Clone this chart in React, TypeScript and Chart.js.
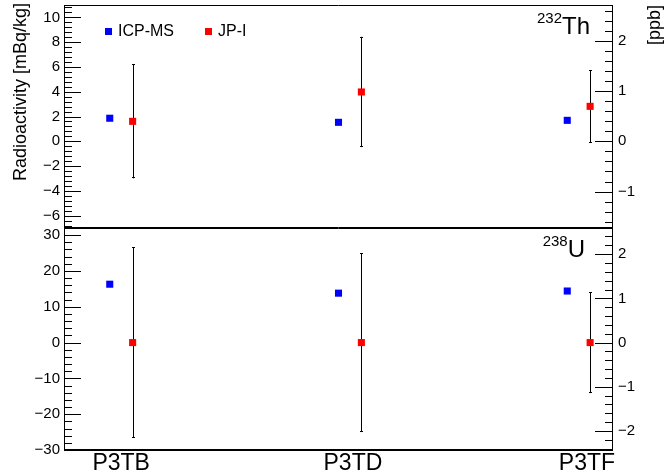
import React, { useEffect, useRef } from "react";
import { Chart, registerables } from "chart.js";

Chart.register(...registerables);

// ---------- data ----------
const categories = ["P3TB", "P3TD", "P3TF"];
const categoryX = [0, 1, 2];
const labelX = [0, 1.013, 2.036];
const pairOffset = 0.05;
const xRange = [-0.25, 2.15];

// Th-232 panel (mBq/kg)
const thICPMS = [1.86, 1.53, 1.69];
const thJPI = [1.61, 3.98, 2.82];
const thJPIErr = [4.6, 4.45, 2.93];
const thRange = [-7, 11];
const thMajor = [-6, -4, -2, 0, 2, 4, 6, 8, 10];
const thMinorStep = 0.4;
const thPerPpb = 4.06;
const thPpbMajor = [-1, 0, 1, 2];

// U-238 panel (mBq/kg)
const uICPMS = [16.3, 13.8, 14.4];
const uJPI = [0, 0, 0];
const uJPIErr = [26.6, 25.0, 14.1];
const uRange = [-30, 32];
const uMajor = [-30, -20, -10, 0, 10, 20, 30];
const uMinorStep = 2;
const uPerPpb = 12.35;
const uPpbMajor = [-2, -1, 0, 1, 2];

const ppbMinorStep = 0.2;

const seriesNames = ["ICP-MS", "JP-I"];
const seriesColors = ["#0000ff", "#ff0000"];

// ---------- helpers ----------
const FONT = '"Liberation Sans", Arial, Helvetica, sans-serif';
const fmt = (v: number) => String(v).replace("-", "\u2212");

function minorTicks(min: number, max: number, step: number) {
  const out: number[] = [];
  const start = Math.ceil(min / step - 1e-9);
  const end = Math.floor(max / step + 1e-9);
  for (let i = start; i <= end; i++) out.push(Math.round(i * step * 1e6) / 1e6);
  return out;
}

type PanelCfg = {
  id: string;
  icp: number[];
  jpi: number[];
  jpiErr: number[];
  range: number[];
  major: number[];
  minorStep: number;
  conv: number;
  ppbMajor: number[];
  isoNum: string;
  isoSym: string;
  isoRight: number;
  isTop: boolean;
  canvasTop: number;
  canvasHeight: number;
  padTop: number;
  padBottom: number;
};

const panels: PanelCfg[] = [
  {
    id: "th",
    icp: thICPMS,
    jpi: thJPI,
    jpiErr: thJPIErr,
    range: thRange,
    major: thMajor,
    minorStep: thMinorStep,
    conv: thPerPpb,
    ppbMajor: thPpbMajor,
    isoNum: "232",
    isoSym: "Th",
    isoRight: 23,
    isTop: true,
    canvasTop: 0,
    canvasHeight: 236,
    padTop: 5,
    padBottom: 8,
  },
  {
    id: "u",
    icp: uICPMS,
    jpi: uJPI,
    jpiErr: uJPIErr,
    range: uRange,
    major: uMajor,
    minorStep: uMinorStep,
    conv: uPerPpb,
    ppbMajor: uPpbMajor,
    isoNum: "238",
    isoSym: "U",
    isoRight: 28,
    isTop: false,
    canvasTop: 220,
    canvasHeight: 255,
    padTop: 8,
    padBottom: 0,
  },
];

function makePlugin(p: PanelCfg) {
  return {
    id: "rootFrame_" + p.id,
    beforeDatasetsDraw(chart: any) {
      const ctx = chart.ctx;
      const xs = chart.scales.x;
      const ys = chart.scales.y;
      ctx.save();
      ctx.strokeStyle = "#000";
      ctx.lineWidth = 1;
      p.jpi.forEach((v, i) => {
        const e = p.jpiErr[i];
        const x = Math.round(xs.getPixelForValue(categoryX[i] + pairOffset)) + 0.5;
        const y1 = ys.getPixelForValue(v + e);
        const y2 = ys.getPixelForValue(v - e);
        ctx.beginPath();
        ctx.moveTo(x, y1);
        ctx.lineTo(x, y2);
        ctx.moveTo(x - 1.5, Math.round(y1) + 0.5);
        ctx.lineTo(x + 1.5, Math.round(y1) + 0.5);
        ctx.moveTo(x - 1.5, Math.round(y2) - 0.5);
        ctx.lineTo(x + 1.5, Math.round(y2) - 0.5);
        ctx.stroke();
      });
      ctx.restore();
    },
    afterDraw(chart: any) {
      const ctx = chart.ctx;
      const { left, right, top, bottom } = chart.chartArea;
      const ys = chart.scales.y;
      const y2s = chart.scales.y2;
      ctx.save();
      ctx.strokeStyle = "#000";
      ctx.lineWidth = 1;
      // frame
      ctx.beginPath();
      ctx.moveTo(left + 0.5, top);
      ctx.lineTo(left + 0.5, bottom);
      ctx.moveTo(right - 0.5, top);
      ctx.lineTo(right - 0.5, bottom);
      ctx.moveTo(left, top + 0.5);
      ctx.lineTo(right, top + 0.5);
      if (p.isTop) {
        ctx.moveTo(left, bottom - 0.5);
        ctx.lineTo(right, bottom - 0.5);
      }
      ctx.stroke();
      if (!p.isTop) {
        ctx.lineWidth = 2;
        ctx.beginPath();
        ctx.moveTo(left, bottom);
        ctx.lineTo(right, bottom);
        ctx.stroke();
        ctx.lineWidth = 1;
      }
      // ticks (ROOT style: drawn inward)
      const MAJ = 17;
      const MIN = 8;
      const segs: number[][] = [];
      for (const v of minorTicks(p.range[0], p.range[1], p.minorStep)) {
        const y = Math.round(ys.getPixelForValue(v)) + 0.5;
        if (y < top + 1 || y > bottom - 1) continue;
        segs.push([left, y, left + MIN, y]);
      }
      for (const v of p.major) {
        const y = Math.round(ys.getPixelForValue(v)) + 0.5;
        segs.push([left, y, left + MAJ, y]);
      }
      for (const v of minorTicks(p.range[0] / p.conv, p.range[1] / p.conv, ppbMinorStep)) {
        const y = Math.round(y2s.getPixelForValue(v)) + 0.5;
        if (y < top + 1 || y > bottom - 1) continue;
        segs.push([right, y, right - MIN, y]);
      }
      for (const v of p.ppbMajor) {
        const y = Math.round(y2s.getPixelForValue(v)) + 0.5;
        segs.push([right, y, right - MAJ - 1, y]);
      }
      ctx.strokeStyle = "#000";
      ctx.lineWidth = 1;
      for (const s of segs) {
        ctx.beginPath();
        ctx.moveTo(s[0], s[1]);
        ctx.lineTo(s[2], s[3]);
        ctx.stroke();
      }

      // isotope label
      ctx.fillStyle = "#000";
      ctx.textBaseline = "alphabetic";
      ctx.textAlign = "right";
      ctx.font = `24px ${FONT}`;
      const symRight = right - p.isoRight;
      const symBase = top + 29;
      ctx.fillText(p.isoSym, symRight, symBase);
      const wSym = ctx.measureText(p.isoSym).width;
      ctx.font = `15px ${FONT}`;
      ctx.fillText(p.isoNum, symRight - wSym, symBase - 11);

      if (p.isTop) {
        // legend
        const legX = [108.5, 208.5];
        const legY = 31.5;
        chart.data.datasets.forEach((ds: any, i: number) => {
          ctx.fillStyle = ds.backgroundColor;
          ctx.fillRect(legX[i] - 3.5, legY - 3.5, 7, 7);
          ctx.fillStyle = "#000";
          ctx.font = `16px ${FONT}`;
          ctx.textAlign = "left";
          ctx.textBaseline = "middle";
          ctx.fillText(ds.label, legX[i] + 9.5, legY + 0.5);
        });
        // axis titles
        ctx.font = `18px ${FONT}`;
        ctx.textAlign = "right";
        ctx.textBaseline = "middle";
        ctx.save();
        ctx.translate(21, 3);
        ctx.rotate(-Math.PI / 2);
        ctx.fillText("Radioactivity [mBq/kg]", 0, 0);
        ctx.restore();
        ctx.save();
        ctx.translate(655, 5);
        ctx.rotate(-Math.PI / 2);
        ctx.fillText("[ppb]", 0, 0);
        ctx.restore();
      }
      ctx.restore();
    },
  };
}

function Panel({ p }: { p: PanelCfg }) {
  const ref = useRef<HTMLCanvasElement | null>(null);
  useEffect(() => {
    if (!ref.current) return;
    const values = [p.icp, p.jpi];
    const chart = new Chart(ref.current, {
      type: "scatter",
      data: {
        datasets: values.map((arr, s) => ({
          label: seriesNames[s],
          data: arr.map((v, i) => ({ x: categoryX[i] + (s === 0 ? -pairOffset : pairOffset), y: v })),
          backgroundColor: seriesColors[s],
          borderColor: seriesColors[s],
          pointStyle: "rect",
          pointRadius: 5,
          pointBorderWidth: 0,
          borderWidth: 0,
          xAxisID: "x",
          yAxisID: "y",
        })),
      },
      options: {
        responsive: false,
        animation: false,
        devicePixelRatio: 1,
        events: [],
        layout: { padding: { top: p.padTop, bottom: p.padBottom, left: 0, right: 0 } },
        plugins: {
          legend: { display: false },
          tooltip: { enabled: false },
          title: { display: false },
        },
        scales: {
          x: {
            type: "linear",
            min: xRange[0],
            max: xRange[1],
            display: !p.isTop,
            grid: { display: false, drawTicks: false },
            border: { display: false },
            afterBuildTicks: (s: any) => {
              s.ticks = labelX.map((v) => ({ value: v }));
            },
            afterFit: (s: any) => {
              if (!p.isTop) s.height = 25;
              s.paddingLeft = 0;
              s.paddingRight = 0;
            },
            ticks: {
              autoSkip: false,
              maxRotation: 0,
              minRotation: 0,
              padding: 0,
              color: "#000",
              font: { family: FONT, size: 23 },
              callback: (_v: any, i: number) => categories[i],
            },
          },
          y: {
            type: "linear",
            position: "left",
            min: p.range[0],
            max: p.range[1],
            grid: { display: false, drawTicks: false },
            border: { display: false },
            afterBuildTicks: (s: any) => {
              s.ticks = p.major.map((v) => ({ value: v }));
            },
            afterFit: (s: any) => {
              s.width = 64;
              s.paddingTop = 0;
              s.paddingBottom = 0;
            },
            ticks: {
              autoSkip: false,
              padding: 4,
              color: "#000",
              font: { family: FONT, size: 15 },
              callback: (v: any) => fmt(v),
            },
          },
          y2: {
            type: "linear",
            position: "right",
            min: p.range[0] / p.conv,
            max: p.range[1] / p.conv,
            grid: { display: false, drawTicks: false },
            border: { display: false },
            afterBuildTicks: (s: any) => {
              s.ticks = p.ppbMajor.map((v) => ({ value: v }));
            },
            afterFit: (s: any) => {
              s.width = 53;
              s.paddingTop = 0;
              s.paddingBottom = 0;
            },
            ticks: {
              autoSkip: false,
              padding: 5,
              color: "#000",
              font: { family: FONT, size: 15 },
              callback: (v: any) => fmt(v),
            },
          },
        },
      } as any,
      plugins: [makePlugin(p)],
    });
    return () => chart.destroy();
  }, [p]);
  return (
    <canvas
      ref={ref}
      width={666}
      height={p.canvasHeight}
      style={{ position: "absolute", left: 0, top: p.canvasTop, width: 666, height: p.canvasHeight, display: "block" }}
    />
  );
}

export default function App() {
  return (
    <div style={{ position: "fixed", left: 0, top: 0, width: 666, height: 475, background: "#fff", overflow: "hidden" }}>
      {panels.map((p) => (
        <Panel key={p.id} p={p} />
      ))}
    </div>
  );
}
